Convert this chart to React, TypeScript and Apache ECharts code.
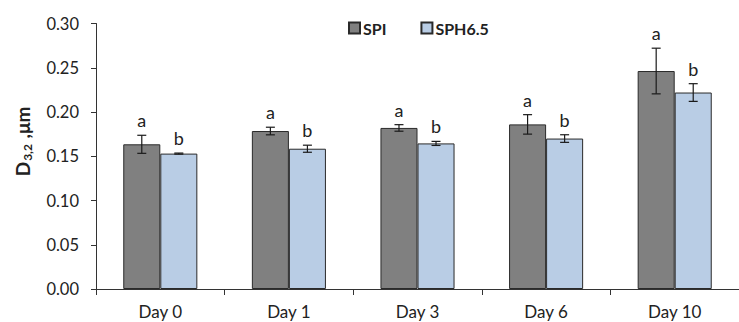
import React, { useEffect, useRef } from "react";
import * as echarts from "echarts";

const categories = ["Day 0", "Day 1", "Day 3", "Day 6", "Day 10"];
const spiValues = [0.1635, 0.1785, 0.182, 0.186, 0.2463];
const spiErrors = [0.0102, 0.0043, 0.0037, 0.011, 0.0258];
const spiLetters = ["a", "a", "a", "a", "a"];
const sphValues = [0.153, 0.1585, 0.1645, 0.170, 0.222];
const sphErrors = [0.0006, 0.004, 0.0023, 0.0043, 0.010];
const sphLetters = ["b", "b", "b", "b", "b"];
const yTicks = { min: 0, max: 0.3, interval: 0.05 };

const FONT = "Lato, 'Open Sans', sans-serif";
const BAR_FRAC = 0.288;

function errorSeries(name: string, values: number[], errors: number[], letters: string[], side: number) {
  return {
    type: "custom",
    name: name + "-err",
    silent: true,
    z: 5,
    data: values.map((v, i) => [i, v, errors[i]]),
    renderItem: (params: any, api: any) => {
      const x = api.value(0);
      const v = api.value(1);
      const e = api.value(2);
      const band = api.size([1, 0])[0];
      const bw = band * BAR_FRAC;
      const c = api.coord([x, v]);
      const cx = c[0] + (side * bw) / 2;
      const top = api.coord([x, v + e])[1];
      const bot = api.coord([x, v - e])[1];
      const cap = 4.5;
      const ls = { stroke: "#1a1a1a", lineWidth: 1.2 };
      return {
        type: "group",
        children: [
          { type: "line", shape: { x1: cx, y1: top, x2: cx, y2: bot }, style: ls },
          { type: "line", shape: { x1: cx - cap, y1: top, x2: cx + cap, y2: top }, style: ls },
          { type: "line", shape: { x1: cx - cap, y1: bot, x2: cx + cap, y2: bot }, style: ls },
          {
            type: "text",
            x: cx,
            y: top - 6,
            style: {
              text: letters[params.dataIndex],
              fill: "#222",
              font: `18px ${FONT}`,
              align: "center",
              verticalAlign: "bottom",
            },
          },
        ],
      };
    },
  };
}

export default function App() {
  const ref = useRef<HTMLDivElement>(null);
  useEffect(() => {
    if (!ref.current) return;
    const chart = echarts.init(ref.current, null, { renderer: "svg" });
    chart.setOption({
      animation: false,
      backgroundColor: "#fff",
      grid: { left: 96, top: 23.5, width: 652, height: 265.5, containLabel: false },
      legend: {
        top: 15,
        left: 343,
        itemWidth: 11,
        itemHeight: 11,
        itemGap: 34,
        icon: "rect",
        data: ["SPI", "SPH6.5"],
        textStyle: { fontFamily: FONT, fontSize: 16, fontWeight: "bold", color: "#222", padding: [0, 0, 0, -2] },
      },
      graphic: [
        {
          type: "text",
          x: 22,
          y: 141.5,
          rotation: Math.PI / 2,
          style: {
            text: "{b|D}{s|3,2}{b| ,μm}",
            align: "center",
            verticalAlign: "middle",
            rich: {
              b: { fontFamily: FONT, fontSize: 19, fontWeight: "bold", fill: "#222", color: "#222" },
              s: { fontFamily: FONT, fontSize: 12, fontWeight: "bold", fill: "#222", color: "#222", padding: [10, 1, 0, 1] },
            },
          },
        },
      ],
      xAxis: {
        type: "category",
        data: categories,
        axisLine: { lineStyle: { color: "#333", width: 1 } },
        axisTick: { show: true, length: 6, lineStyle: { color: "#333" } },
        axisLabel: { fontFamily: FONT, fontSize: 17, color: "#222", margin: 14 },
      },
      yAxis: {
        type: "value",
        min: yTicks.min,
        max: yTicks.max,
        interval: yTicks.interval,
        splitLine: { show: false },
        axisLine: { show: true, lineStyle: { color: "#333", width: 1 } },
        axisTick: { show: true, length: 5, lineStyle: { color: "#333" } },
        axisLabel: {
          fontFamily: FONT,
          fontSize: 16.5,
          color: "#222",
          margin: 17,
          formatter: (v: number) => v.toFixed(2),
        },
      },
      series: [
        {
          name: "SPI",
          type: "bar",
          data: spiValues,
          barWidth: BAR_FRAC * 100 + "%",
          barGap: "0%",
          itemStyle: { color: "#808080", borderColor: "#2a2a2a", borderWidth: 1 },
        },
        {
          name: "SPH6.5",
          type: "bar",
          data: sphValues,
          barWidth: BAR_FRAC * 100 + "%",
          barGap: "0%",
          itemStyle: { color: "#B9CDE5", borderColor: "#2a2a2a", borderWidth: 1 },
        },
        errorSeries("SPI", spiValues, spiErrors, spiLetters, -1),
        errorSeries("SPH6.5", sphValues, sphErrors, sphLetters, 1),
      ],
    });
    return () => chart.dispose();
  }, []);
  return (
    <div
      ref={ref}
      style={{ position: "absolute", left: 0, top: 0, width: 739, height: 322 }}
    />
  );
}
